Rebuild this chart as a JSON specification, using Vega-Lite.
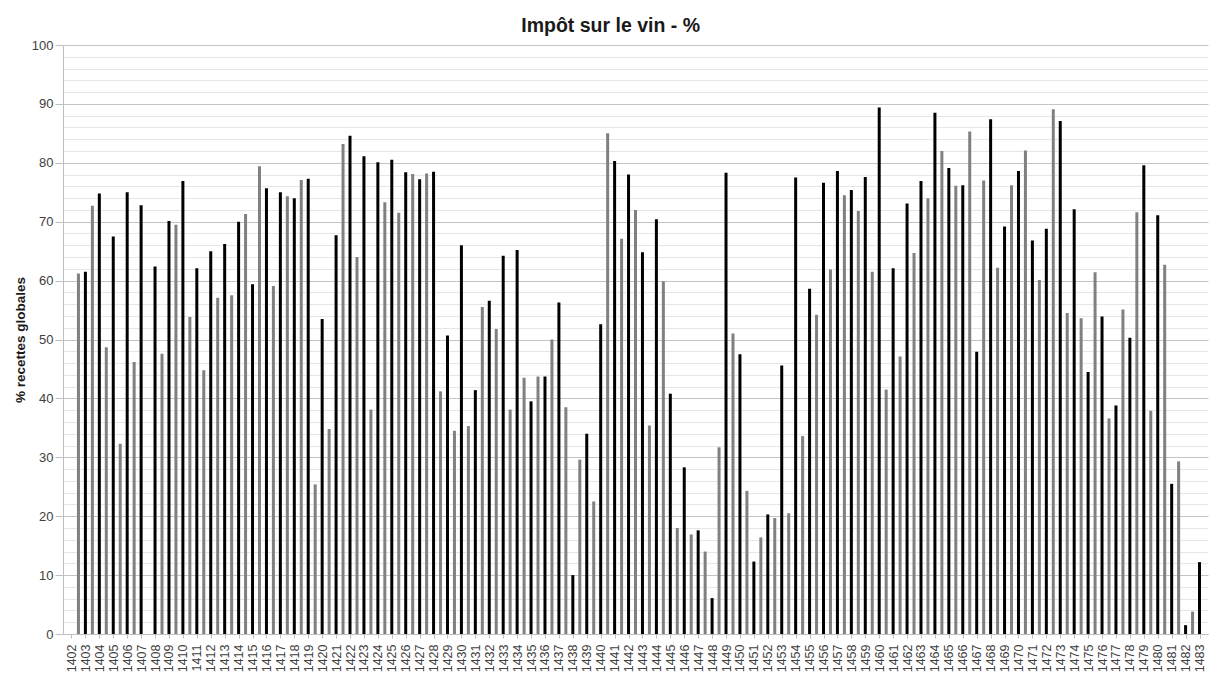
{
  "$schema": "https://vega.github.io/schema/vega-lite/v6.json",
  "width": 1145,
  "height": 589,
  "autosize": {"type": "none"},
  "padding": {"left": 63, "top": 45, "right": 4, "bottom": 41},
  "background": "white",
  "title": {"text": "Impôt sur le vin - %", "font": "Liberation Sans", "fontSize": 19.5, "fontWeight": "bold", "color": "#1a1a1a", "anchor": "middle", "frame": "bounds", "offset": 3},
  "data": {"values": [
    {"t": 1402.5, "s": "gris", "v": 61.2}, {"t": 1403, "s": "noir", "v": 61.5},
    {"t": 1403.5, "s": "gris", "v": 72.7}, {"t": 1404, "s": "noir", "v": 74.8},
    {"t": 1404.5, "s": "gris", "v": 48.7}, {"t": 1405, "s": "noir", "v": 67.5},
    {"t": 1405.5, "s": "gris", "v": 32.3}, {"t": 1406, "s": "noir", "v": 75.0},
    {"t": 1406.5, "s": "gris", "v": 46.2}, {"t": 1407, "s": "noir", "v": 72.8},
    {"t": 1408, "s": "noir", "v": 62.4},
    {"t": 1408.5, "s": "gris", "v": 47.6}, {"t": 1409, "s": "noir", "v": 70.1},
    {"t": 1409.5, "s": "gris", "v": 69.5}, {"t": 1410, "s": "noir", "v": 76.9},
    {"t": 1410.5, "s": "gris", "v": 53.8}, {"t": 1411, "s": "noir", "v": 62.1},
    {"t": 1411.5, "s": "gris", "v": 44.8}, {"t": 1412, "s": "noir", "v": 65.0},
    {"t": 1412.5, "s": "gris", "v": 57.1}, {"t": 1413, "s": "noir", "v": 66.2},
    {"t": 1413.5, "s": "gris", "v": 57.5}, {"t": 1414, "s": "noir", "v": 70.0},
    {"t": 1414.5, "s": "gris", "v": 71.3}, {"t": 1415, "s": "noir", "v": 59.4},
    {"t": 1415.5, "s": "gris", "v": 79.4}, {"t": 1416, "s": "noir", "v": 75.7},
    {"t": 1416.5, "s": "gris", "v": 59.1}, {"t": 1417, "s": "noir", "v": 75.0},
    {"t": 1417.5, "s": "gris", "v": 74.3}, {"t": 1418, "s": "noir", "v": 74.0},
    {"t": 1418.5, "s": "gris", "v": 77.1}, {"t": 1419, "s": "noir", "v": 77.3},
    {"t": 1419.5, "s": "gris", "v": 25.4}, {"t": 1420, "s": "noir", "v": 53.5},
    {"t": 1420.5, "s": "gris", "v": 34.8}, {"t": 1421, "s": "noir", "v": 67.7},
    {"t": 1421.5, "s": "gris", "v": 83.2}, {"t": 1422, "s": "noir", "v": 84.6},
    {"t": 1422.5, "s": "gris", "v": 64.0}, {"t": 1423, "s": "noir", "v": 81.1},
    {"t": 1423.5, "s": "gris", "v": 38.1}, {"t": 1424, "s": "noir", "v": 80.1},
    {"t": 1424.5, "s": "gris", "v": 73.3}, {"t": 1425, "s": "noir", "v": 80.5},
    {"t": 1425.5, "s": "gris", "v": 71.5}, {"t": 1426, "s": "noir", "v": 78.4},
    {"t": 1426.5, "s": "gris", "v": 78.1}, {"t": 1427, "s": "noir", "v": 77.2},
    {"t": 1427.5, "s": "gris", "v": 78.2}, {"t": 1428, "s": "noir", "v": 78.5},
    {"t": 1428.5, "s": "gris", "v": 41.2}, {"t": 1429, "s": "noir", "v": 50.7},
    {"t": 1429.5, "s": "gris", "v": 34.5}, {"t": 1430, "s": "noir", "v": 66.0},
    {"t": 1430.5, "s": "gris", "v": 35.3}, {"t": 1431, "s": "noir", "v": 41.4},
    {"t": 1431.5, "s": "gris", "v": 55.5}, {"t": 1432, "s": "noir", "v": 56.6},
    {"t": 1432.5, "s": "gris", "v": 51.8}, {"t": 1433, "s": "noir", "v": 64.2},
    {"t": 1433.5, "s": "gris", "v": 38.1}, {"t": 1434, "s": "noir", "v": 65.2},
    {"t": 1434.5, "s": "gris", "v": 43.5}, {"t": 1435, "s": "noir", "v": 39.5},
    {"t": 1435.5, "s": "gris", "v": 43.7}, {"t": 1436, "s": "noir", "v": 43.7},
    {"t": 1436.5, "s": "gris", "v": 50.0}, {"t": 1437, "s": "noir", "v": 56.3},
    {"t": 1437.5, "s": "gris", "v": 38.5}, {"t": 1438, "s": "noir", "v": 10.0},
    {"t": 1438.5, "s": "gris", "v": 29.6}, {"t": 1439, "s": "noir", "v": 34.0},
    {"t": 1439.5, "s": "gris", "v": 22.5}, {"t": 1440, "s": "noir", "v": 52.6},
    {"t": 1440.5, "s": "gris", "v": 85.0}, {"t": 1441, "s": "noir", "v": 80.3},
    {"t": 1441.5, "s": "gris", "v": 67.1}, {"t": 1442, "s": "noir", "v": 78.0},
    {"t": 1442.5, "s": "gris", "v": 72.0}, {"t": 1443, "s": "noir", "v": 64.8},
    {"t": 1443.5, "s": "gris", "v": 35.4}, {"t": 1444, "s": "noir", "v": 70.4},
    {"t": 1444.5, "s": "gris", "v": 59.9}, {"t": 1445, "s": "noir", "v": 40.8},
    {"t": 1445.5, "s": "gris", "v": 18.0}, {"t": 1446, "s": "noir", "v": 28.3},
    {"t": 1446.5, "s": "gris", "v": 16.9}, {"t": 1447, "s": "noir", "v": 17.6},
    {"t": 1447.5, "s": "gris", "v": 14.0}, {"t": 1448, "s": "noir", "v": 6.1},
    {"t": 1448.5, "s": "gris", "v": 31.7}, {"t": 1449, "s": "noir", "v": 78.3},
    {"t": 1449.5, "s": "gris", "v": 51.0}, {"t": 1450, "s": "noir", "v": 47.5},
    {"t": 1450.5, "s": "gris", "v": 24.3}, {"t": 1451, "s": "noir", "v": 12.3},
    {"t": 1451.5, "s": "gris", "v": 16.4}, {"t": 1452, "s": "noir", "v": 20.3},
    {"t": 1452.5, "s": "gris", "v": 19.7}, {"t": 1453, "s": "noir", "v": 45.6},
    {"t": 1453.5, "s": "gris", "v": 20.5}, {"t": 1454, "s": "noir", "v": 77.5},
    {"t": 1454.5, "s": "gris", "v": 33.6}, {"t": 1455, "s": "noir", "v": 58.6},
    {"t": 1455.5, "s": "gris", "v": 54.2}, {"t": 1456, "s": "noir", "v": 76.6},
    {"t": 1456.5, "s": "gris", "v": 61.9}, {"t": 1457, "s": "noir", "v": 78.6},
    {"t": 1457.5, "s": "gris", "v": 74.5}, {"t": 1458, "s": "noir", "v": 75.4},
    {"t": 1458.5, "s": "gris", "v": 71.8}, {"t": 1459, "s": "noir", "v": 77.6},
    {"t": 1459.5, "s": "gris", "v": 61.5}, {"t": 1460, "s": "noir", "v": 89.4},
    {"t": 1460.5, "s": "gris", "v": 41.5}, {"t": 1461, "s": "noir", "v": 62.1},
    {"t": 1461.5, "s": "gris", "v": 47.1}, {"t": 1462, "s": "noir", "v": 73.1},
    {"t": 1462.5, "s": "gris", "v": 64.7}, {"t": 1463, "s": "noir", "v": 76.9},
    {"t": 1463.5, "s": "gris", "v": 74.0}, {"t": 1464, "s": "noir", "v": 88.5},
    {"t": 1464.5, "s": "gris", "v": 82.0}, {"t": 1465, "s": "noir", "v": 79.1},
    {"t": 1465.5, "s": "gris", "v": 76.1}, {"t": 1466, "s": "noir", "v": 76.2},
    {"t": 1466.5, "s": "gris", "v": 85.3}, {"t": 1467, "s": "noir", "v": 47.9},
    {"t": 1467.5, "s": "gris", "v": 77.0}, {"t": 1468, "s": "noir", "v": 87.4},
    {"t": 1468.5, "s": "gris", "v": 62.2}, {"t": 1469, "s": "noir", "v": 69.2},
    {"t": 1469.5, "s": "gris", "v": 76.2}, {"t": 1470, "s": "noir", "v": 78.6},
    {"t": 1470.5, "s": "gris", "v": 82.1}, {"t": 1471, "s": "noir", "v": 66.8},
    {"t": 1471.5, "s": "gris", "v": 60.1}, {"t": 1472, "s": "noir", "v": 68.8},
    {"t": 1472.5, "s": "gris", "v": 89.1}, {"t": 1473, "s": "noir", "v": 87.1},
    {"t": 1473.5, "s": "gris", "v": 54.5}, {"t": 1474, "s": "noir", "v": 72.1},
    {"t": 1474.5, "s": "gris", "v": 53.6}, {"t": 1475, "s": "noir", "v": 44.5},
    {"t": 1475.5, "s": "gris", "v": 61.4}, {"t": 1476, "s": "noir", "v": 53.9},
    {"t": 1476.5, "s": "gris", "v": 36.6}, {"t": 1477, "s": "noir", "v": 38.8},
    {"t": 1477.5, "s": "gris", "v": 55.1}, {"t": 1478, "s": "noir", "v": 50.3},
    {"t": 1478.5, "s": "gris", "v": 71.6}, {"t": 1479, "s": "noir", "v": 79.6},
    {"t": 1479.5, "s": "gris", "v": 37.9}, {"t": 1480, "s": "noir", "v": 71.1},
    {"t": 1480.5, "s": "gris", "v": 62.7}, {"t": 1481, "s": "noir", "v": 25.5},
    {"t": 1481.5, "s": "gris", "v": 29.3}, {"t": 1482, "s": "noir", "v": 1.5},
    {"t": 1482.5, "s": "gris", "v": 3.8}, {"t": 1483, "s": "noir", "v": 12.2}
  ]},
  "mark": {"type": "bar", "size": 3},
  "encoding": {
    "x": {
      "field": "t", "type": "quantitative",
      "scale": {"domain": [1401.75, 1483.25], "nice": false, "zero": false},
      "axis": {
        "values": [1402,1403,1404,1405,1406,1407,1408,1409,1410,1411,1412,1413,1414,1415,1416,1417,1418,1419,1420,1421,1422,1423,1424,1425,1426,1427,1428,1429,1430,1431,1432,1433,1434,1435,1436,1437,1438,1439,1440,1441,1442,1443,1444,1445,1446,1447,1448,1449,1450,1451,1452,1453,1454,1455,1456,1457,1458,1459,1460,1461,1462,1463,1464,1465,1466,1467,1468,1469,1470,1471,1472,1473,1474,1475,1476,1477,1478,1479,1480,1481,1482,1483],
        "format": "d",
        "labelAngle": -90,
        "labelAlign": "right",
        "labelBaseline": "middle",
        "labelFont": "Liberation Sans",
        "labelFontSize": 12.5,
        "labelColor": "#404040",
        "labelPadding": 6,
        "labelOverlap": false,
        "labelFlush": false,
        "grid": false,
        "title": null,
        "domainColor": "#bfbfbf",
        "tickColor": "#bfbfbf",
        "tickSize": 4
      }
    },
    "y": {
      "field": "v", "type": "quantitative",
      "scale": {"domain": [0, 100], "nice": false},
      "axis": {
        "values": [0,2,4,6,8,10,12,14,16,18,20,22,24,26,28,30,32,34,36,38,40,42,44,46,48,50,52,54,56,58,60,62,64,66,68,70,72,74,76,78,80,82,84,86,88,90,92,94,96,98,100],
        "labelExpr": "datum.value % 10 === 0 ? datum.label : ''",
        "labelFont": "Liberation Sans",
        "labelFontSize": 13,
        "labelColor": "#404040",
        "labelPadding": 2,
        "labelOverlap": false,
        "gridColor": {"condition": {"test": "datum.value % 10 === 0", "value": "#c4c4c4"}, "value": "#e6e6e6"},
        "tickColor": {"condition": {"test": "datum.value % 10 === 0", "value": "#bfbfbf"}, "value": "transparent"},
        "tickSize": 8,
        "domainColor": "#bfbfbf",
        "title": "% recettes globales",
        "titleFont": "Liberation Sans",
        "titleFontSize": 13.5,
        "titleFontWeight": "bold",
        "titleColor": "#1a1a1a",
        "titlePadding": 4
      }
    },
    "color": {
      "field": "s", "type": "nominal",
      "scale": {"domain": ["gris", "noir"], "range": ["#808080", "#000000"]},
      "legend": null
    }
  },
  "config": {"view": {"stroke": null}}
}
